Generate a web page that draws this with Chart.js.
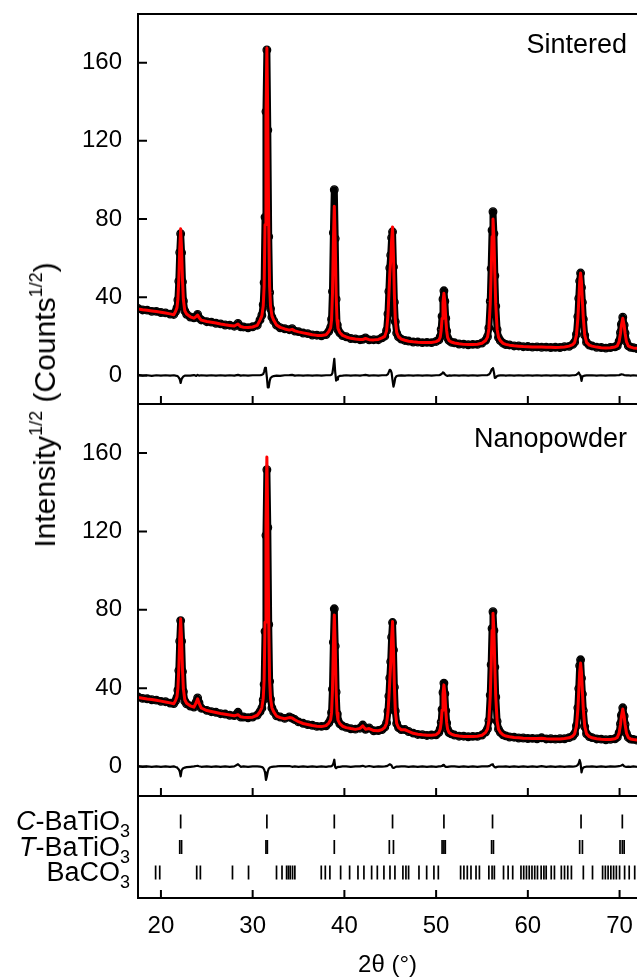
<!DOCTYPE html>
<html>
<head>
<meta charset="utf-8">
<script src="https://cdn.jsdelivr.net/npm/chart.js@4.4.1/dist/chart.umd.min.js"></script>
<style>
  html, body { margin: 0; padding: 0; background: #fff; }
  #wrap { position: relative; width: 637px; height: 980px; overflow: hidden; background: #fff; }
  canvas { position: absolute; left: 0; }
  #ytitle { position: absolute; left: 45px; top: 405px; transform: translate(-50%, -50%) rotate(-90deg);
            font-family: "Liberation Sans", Arial, sans-serif; font-size: 30px; color: #000; white-space: nowrap; line-height: 1; }
  #ytitle sup { font-size: 60%; vertical-align: 0.75em; line-height: 0; }
</style>
</head>
<body>
<div id="wrap">
  <canvas id="c1" width="637" height="405" style="top:0px"></canvas>
  <canvas id="c2" width="637" height="394" style="top:403px"></canvas>
  <canvas id="c3" width="637" height="185" style="top:795px"></canvas>
  <div id="ytitle">Intensity<sup>1/2</sup> (Counts<sup>1/2</sup>)</div>
</div>
<script>
// ---------------- DATA ----------------
const xTickValues = [20, 30, 40, 50, 60, 70];
const yTickValues = [0, 40, 80, 120, 160];
const panelNames = ['Sintered', 'Nanopowder'];
const phaseNames = ['C-BaTiO3', 'T-BaTiO3', 'BaCO3'];
const phaseRows = [3, 2, 1];

const twoTheta = [
  17.5, 18.0, 18.5, 19.0, 19.5, 20.0, 20.5, 21.0, 21.4,
  21.6, 21.75, 21.85, 21.95, 22.05, 22.15, 22.25, 22.35, 22.45, 22.6, 22.8,
  23.2, 23.6, 23.85, 24.0, 24.15, 24.4, 25.0, 25.5, 26.0, 26.5, 27.0, 27.5, 28.0, 28.4, 28.7, 29.0, 29.5, 30.0, 30.5,
  30.8, 31.0, 31.15, 31.25, 31.35, 31.45, 31.55, 31.65, 31.75, 31.85, 31.95, 32.1, 32.3, 32.6,
  33.0, 33.5, 34.0, 34.3, 34.6, 35.0, 35.5, 36.0, 36.5, 37.0, 37.5, 38.0,
  38.3, 38.5, 38.6, 38.7, 38.8, 38.9, 39.0, 39.1, 39.2, 39.3, 39.5, 39.8,
  40.2, 40.7, 41.2, 41.7, 42.0, 42.3, 42.7, 43.2, 43.7, 44.1,
  44.4, 44.6, 44.75, 44.85, 44.95, 45.05, 45.15, 45.25, 45.35, 45.45, 45.55, 45.7, 45.9, 46.2,
  46.6, 47.0, 47.5, 48.0, 48.5, 49.0, 49.5, 50.0, 50.3,
  50.45, 50.55, 50.65, 50.75, 50.85, 50.95, 51.05, 51.15, 51.25, 51.4, 51.65,
  52.0, 52.5, 53.0, 53.5, 54.0, 54.5, 55.0, 55.4,
  55.6, 55.75, 55.9, 56.0, 56.1, 56.2, 56.3, 56.4, 56.5, 56.65, 56.8, 57.0, 57.3,
  57.6, 58.0, 58.5, 59.0, 59.5, 60.0, 60.5, 61.0, 61.5, 62.0, 62.5, 63.0, 63.5, 64.0, 64.5, 64.9,
  65.1, 65.3, 65.45, 65.55, 65.65, 65.75, 65.85, 65.95, 66.05, 66.2, 66.4, 66.7,
  67.0, 67.5, 68.0, 68.5, 69.0, 69.5,
  69.75, 69.95, 70.1, 70.2, 70.35, 70.5, 70.6, 70.75, 70.95,
  71.2, 71.5, 71.9
];

const sinteredObs = [
  34.3, 33.5, 33.4, 32.8, 32.8, 32.2, 32.0, 31.4, 31.2,
  32.7, 34.5, 38.6, 48.2, 62.9, 72.5, 62.8, 47.9, 38.1, 33.0, 31.3,
  29.9, 29.5, 30.0, 31.2, 29.5, 28.4, 27.5, 27.3, 26.7, 26.4, 25.8, 25.7, 25.2, 26.6, 24.9, 24.8, 24.4, 24.9, 25.7,
  28.4, 30.8, 36.2, 47.5, 81.0, 135.0, 166.5, 125.5, 71.0, 42.5, 34.2, 29.8, 27.9, 25.7,
  24.4, 23.9, 23.4, 23.9, 22.7, 22.4, 21.7, 21.4, 20.7, 20.6, 20.3, 20.9,
  22.6, 24.6, 28.8, 43.0, 73.0, 95.0, 70.0, 39.0, 26.0, 23.3, 21.8, 20.4,
  19.8, 18.9, 18.7, 18.3, 18.5, 19.2, 18.2, 18.3, 18.3, 19.3,
  20.1, 23.0, 31.5, 43.0, 55.0, 61.5, 70.5, 73.5, 55.5, 37.5, 27.5, 21.7, 19.7, 18.6,
  17.9, 17.6, 17.1, 17.1, 16.8, 16.9, 16.8, 17.4, 18.2,
  19.9, 23.6, 30.3, 39.0, 43.3, 38.0, 29.3, 22.8, 19.3, 17.9, 17.0,
  16.7, 16.1, 16.0, 15.7, 15.9, 15.9, 16.6, 18.0,
  19.8, 24.3, 38.0, 54.7, 74.3, 83.8, 72.6, 51.0, 35.5, 23.4, 19.4, 17.8, 16.5,
  15.8, 15.6, 15.1, 15.1, 14.7, 14.8, 14.5, 14.6, 14.4, 14.5, 14.3, 14.4, 14.3, 14.7, 14.9, 15.9,
  17.0, 21.1, 30.1, 39.4, 48.3, 52.4, 45.0, 37.4, 28.8, 20.6, 16.9, 15.5,
  15.1, 14.4, 14.3, 14.0, 14.3, 14.6,
  15.2, 17.5, 22.0, 26.2, 29.8, 25.8, 21.7, 17.3, 15.2,
  14.4, 14.2, 13.8
];

const sinteredCalc = [
  34.0, 33.6, 33.3, 33.0, 32.7, 32.3, 31.9, 31.5, 31.1,
  32.8, 34.7, 39.1, 49.3, 64.8, 75.0, 64.7, 49.0, 38.6, 33.1, 31.4,
  30.0, 29.3, 30.2, 30.9, 29.6, 28.3, 27.6, 27.2, 26.8, 26.3, 25.9, 25.6, 25.3, 26.3, 25.0, 24.7, 24.5, 24.8, 25.6,
  28.3, 30.5, 35.5, 45.5, 77.1, 131.6, 167.5, 131.6, 77.1, 45.5, 35.5, 30.5, 28.2, 25.8,
  24.6, 23.8, 23.2, 23.6, 22.8, 22.3, 21.8, 21.3, 20.8, 20.5, 20.4, 20.8,
  22.5, 24.4, 28.4, 41.7, 68.4, 86.5, 68.3, 41.6, 28.1, 24.1, 22.0, 20.5,
  19.7, 19.0, 18.6, 18.4, 18.4, 18.9, 18.3, 18.2, 18.4, 19.2,
  20.0, 22.8, 30.8, 41.2, 52.1, 58.9, 69.2, 76.0, 61.2, 41.4, 28.7, 22.0, 19.8, 18.6,
  18.0, 17.5, 17.2, 17.0, 16.9, 16.8, 16.9, 17.3, 18.1,
  19.6, 23.0, 29.2, 37.4, 42.0, 37.4, 29.1, 22.9, 19.5, 17.9, 17.1,
  16.6, 16.2, 15.9, 15.8, 15.8, 16.0, 16.5, 17.9,
  19.6, 23.8, 36.7, 52.2, 70.9, 80.0, 70.9, 52.2, 36.6, 23.7, 19.5, 17.8, 16.4,
  15.9, 15.5, 15.2, 15.0, 14.8, 14.7, 14.6, 14.5, 14.5, 14.4, 14.4, 14.3, 14.4, 14.6, 15.0, 15.8,
  16.9, 20.7, 29.1, 37.9, 47.8, 52.4, 47.8, 37.9, 29.1, 20.7, 16.9, 15.5,
  15.0, 14.5, 14.2, 14.1, 14.2, 14.6,
  15.1, 17.3, 21.6, 25.6, 29.3, 25.6, 21.6, 17.3, 15.1,
  14.5, 14.1, 13.9
];

const sinteredDiff = [
  0.3, -0.1, 0.1, -0.2, 0.1, -0.1, 0.1, -0.1, 0.1,
  -0.1, -0.2, -0.5, -1.1, -1.9, -3.8, -1.9, -1.1, -0.5, -0.1, -0.1,
  -0.1, 0.2, -0.2, 0.3, -0.1, 0.1, -0.1, 0.1, -0.1, 0.1, -0.1, 0.1, -0.1, 0.3, -0.1, 0.1, -0.1, 0.1, 0.1,
  0.1, 0.3, 0.7, 2.0, 3.9, 3.4, -1.0, -6.1, -6.1, -3.0, -1.3, -0.7, -0.3, -0.1,
  -0.2, 0.1, 0.2, 0.3, -0.1, 0.1, -0.1, 0.1, -0.1, 0.1, -0.1, 0.1,
  0.1, 0.2, 0.4, 1.3, 4.6, 8.5, 1.7, -2.6, -2.1, -0.8, -0.2, -0.1,
  0.1, -0.1, 0.1, -0.1, 0.1, 0.3, -0.1, 0.1, -0.1, 0.1,
  0.1, 0.2, 0.7, 1.8, 2.9, 2.6, 1.3, -2.5, -5.7, -3.9, -1.2, -0.3, -0.1, 0.0,
  -0.1, 0.1, -0.1, 0.1, -0.1, 0.1, -0.1, 0.1, 0.1,
  0.3, 0.6, 1.1, 1.6, 1.3, 0.6, 0.2, -0.1, -0.2, 0.0, -0.1,
  0.1, -0.1, 0.1, -0.1, 0.1, -0.1, 0.1, 0.1,
  0.2, 0.5, 1.3, 2.5, 3.4, 3.8, 1.7, -1.2, -1.1, -0.3, -0.1, 0.0, 0.1,
  -0.1, 0.1, -0.1, 0.1, -0.1, 0.1, -0.1, 0.1, -0.1, 0.1, -0.1, 0.1, -0.1, 0.1, -0.1, 0.1,
  0.1, 0.4, 1.0, 1.5, 0.5, 0.0, -2.8, -0.5, -0.3, -0.1, 0.0, 0.0,
  0.1, -0.1, 0.1, -0.1, 0.1, 0.0,
  0.1, 0.2, 0.4, 0.6, 0.5, 0.2, 0.1, 0.0, 0.1,
  -0.1, 0.1, -0.1
];

const nanoObs = [
  35.5, 34.8, 34.6, 34.1, 33.9, 33.3, 33.1, 32.4, 32.2,
  33.6, 35.3, 39.0, 49.0, 64.0, 74.5, 64.0, 48.5, 38.3, 33.4, 32.0,
  30.9, 30.4, 33.0, 35.0, 32.6, 29.8, 28.7, 28.0, 27.7, 27.0, 26.8, 26.2, 26.0, 27.7, 25.3, 25.3, 24.9, 25.3, 26.3,
  28.0, 29.8, 34.0, 42.0, 69.0, 118.0, 151.5, 122.0, 72.5, 43.5, 34.4, 29.9, 27.9, 25.9,
  25.3, 24.6, 25.3, 24.7, 24.0, 22.8, 22.1, 21.4, 21.1, 20.5, 20.5, 20.8,
  22.3, 24.0, 27.6, 39.5, 63.5, 80.5, 61.5, 38.0, 27.0, 23.6, 21.8, 20.7,
  20.0, 19.3, 19.1, 19.6, 21.2, 19.0, 19.7, 18.3, 18.4, 18.9,
  20.1, 22.3, 28.3, 36.0, 45.2, 53.5, 66.0, 73.5, 59.5, 40.5, 28.4, 22.0, 19.9, 18.9,
  18.9, 17.9, 17.1, 16.4, 16.3, 15.9, 16.1, 16.2, 17.5,
  19.3, 22.7, 29.2, 37.8, 42.6, 37.2, 28.6, 22.3, 19.0, 17.4, 16.7,
  16.1, 15.5, 15.5, 15.2, 15.4, 15.4, 16.1, 17.6,
  19.3, 23.5, 36.5, 52.0, 70.5, 79.0, 69.5, 50.8, 35.5, 23.1, 19.1, 17.5, 16.2,
  15.7, 15.1, 15.0, 14.6, 14.6, 14.3, 14.4, 14.2, 14.7, 14.1, 14.2, 14.0, 14.2, 14.2, 14.8, 15.6,
  16.8, 20.9, 30.0, 39.8, 51.5, 54.5, 45.1, 37.0, 28.6, 20.4, 16.7, 15.3,
  14.8, 14.1, 14.0, 13.7, 13.9, 14.2,
  15.0, 17.3, 21.9, 26.2, 30.0, 25.8, 21.5, 17.0, 14.9,
  14.0, 13.9, 13.5
];

const nanoCalc = [
  35.3, 34.9, 34.5, 34.2, 33.8, 33.4, 33.0, 32.5, 32.1,
  33.8, 35.7, 40.0, 50.0, 65.3, 75.4, 65.2, 49.7, 39.5, 34.1, 32.3,
  31.0, 30.3, 32.7, 34.6, 32.4, 29.9, 28.6, 28.1, 27.6, 27.1, 26.7, 26.3, 25.9, 26.5, 25.4, 25.2, 25.0, 25.2, 26.2,
  28.0, 30.0, 34.7, 44.1, 73.6, 124.5, 158.0, 124.5, 73.6, 44.1, 34.7, 30.0, 27.9, 25.8,
  25.0, 24.4, 25.0, 24.8, 23.9, 22.9, 22.0, 21.5, 21.0, 20.6, 20.4, 20.9,
  22.2, 23.9, 27.4, 38.9, 61.9, 77.4, 61.8, 38.8, 27.3, 23.7, 21.9, 20.6,
  19.9, 19.4, 19.0, 19.5, 20.8, 19.1, 19.4, 18.4, 18.3, 18.9,
  20.0, 22.1, 27.7, 35.1, 44.0, 52.5, 65.5, 74.0, 60.2, 41.1, 28.6, 22.0, 19.9, 18.8,
  18.8, 18.0, 17.0, 16.5, 16.2, 16.0, 16.0, 16.3, 17.4,
  19.2, 22.5, 28.8, 37.0, 41.7, 37.0, 28.7, 22.4, 19.1, 17.4, 16.6,
  16.0, 15.6, 15.4, 15.3, 15.3, 15.5, 16.0, 17.5,
  19.2, 23.3, 35.9, 51.1, 69.4, 78.3, 69.4, 51.1, 35.9, 23.2, 19.1, 17.5, 16.2,
  15.6, 15.2, 14.9, 14.7, 14.5, 14.4, 14.3, 14.3, 14.5, 14.2, 14.1, 14.1, 14.1, 14.3, 14.7, 15.6,
  16.7, 20.6, 29.1, 38.1, 48.1, 52.8, 48.1, 38.1, 29.1, 20.6, 16.7, 15.3,
  14.7, 14.2, 13.9, 13.8, 13.8, 14.2,
  14.9, 17.1, 21.5, 25.6, 29.4, 25.6, 21.5, 17.1, 14.9,
  14.1, 13.8, 13.6
];

const nanoDiff = [
  0.2, -0.1, 0.1, -0.1, 0.1, -0.1, 0.1, -0.1, 0.1,
  -0.2, -0.4, -1.0, -1.5, -2.5, -5.0, -2.0, -1.2, -0.8, -0.5, -0.3,
  -0.1, 0.1, 0.3, 0.4, 0.2, -0.1, 0.1, -0.1, 0.1, -0.1, 0.1, -0.1, 0.1, 1.2, -0.1, 0.1, -0.1, 0.1, 0.1,
  0.0, -0.2, -0.7, -1.5, -3.0, -6.8, -5.0, -2.5, -1.1, -0.6, -0.3, -0.1, 0.0, 0.1,
  0.3, 0.2, 0.3, -0.1, 0.1, -0.1, 0.1, -0.1, 0.1, -0.1, 0.1, -0.1,
  0.1, 0.1, 0.2, 0.6, 1.6, 3.5, -0.3, -0.8, -0.3, -0.1, -0.1, 0.1,
  0.1, -0.1, 0.1, 0.1, 0.4, -0.1, 0.3, -0.1, 0.1, 0.0,
  0.1, 0.2, 0.6, 0.9, 1.2, 1.0, 0.5, -0.5, -0.7, -0.6, -0.2, 0.0, 0.0, 0.1,
  0.1, -0.1, 0.1, -0.1, 0.1, -0.1, 0.1, -0.1, 0.1,
  0.1, 0.2, 0.4, 0.8, 0.9, 0.2, -0.1, -0.1, -0.1, 0.0, 0.1,
  0.1, -0.1, 0.1, -0.1, 0.1, -0.1, 0.1, 0.1,
  0.1, 0.2, 0.6, 0.9, 1.1, 0.7, 0.1, -0.3, -0.4, -0.1, 0.0, 0.0, 0.0,
  0.1, -0.1, 0.1, -0.1, 0.1, -0.1, 0.1, -0.1, 0.2, -0.1, 0.1, -0.1, 0.1, -0.1, 0.1, 0.0,
  0.1, 0.3, 0.9, 1.7, 3.4, 1.7, -3.0, -1.1, -0.5, -0.2, 0.0, 0.0,
  0.1, -0.1, 0.1, -0.1, 0.1, 0.0,
  0.1, 0.2, 0.4, 0.6, 1.0, 0.2, 0.0, -0.1, 0.0,
  -0.1, 0.1, -0.1
];

// reflection markers (2θ)
const cubicRefl = [22.15, 31.55, 38.9, 45.25, 50.85, 56.15, 65.8, 70.3];
const tetraRefl = [22.05, 22.25, 31.45, 31.6, 38.9, 44.9, 45.35, 50.65, 50.85, 51.0, 56.05, 56.25,
                   65.65, 65.95, 70.05, 70.3, 70.5];
const bacoRefl = [19.42, 19.87, 23.9, 24.3, 27.8, 29.55, 32.6, 33.2, 33.7, 33.9, 34.1, 34.35, 34.6,
  37.48, 37.92, 38.42, 39.59, 40.57, 41.48, 42.13, 42.97, 43.59, 44.31, 44.97, 45.51, 46.38, 46.71, 47.0,
  48.13, 48.97, 49.76, 50.24, 52.67, 53.03, 53.4, 53.8, 54.35, 54.72, 55.75, 56.1, 56.35,
  57.35, 57.85, 58.35, 59.25, 59.55, 59.85, 60.15, 60.45, 60.75, 61.05, 61.45, 61.75, 62.0,
  62.55, 62.9, 63.65, 64.0, 64.35, 64.75, 66.05, 67.05, 68.15, 68.45, 68.75, 69.05, 69.35, 69.65, 70.0,
  70.55, 71.05, 71.65];

// ---------------- RENDERING ----------------
const FONT = '"Liberation Sans", Arial, Helvetica, sans-serif';
Chart.defaults.font.family = FONT;
Chart.defaults.color = '#000';

const X_MIN = 17.5, X_MAX = 71.9;
const pts = (ys) => twoTheta.map((x, i) => ({ x: x, y: ys[i] }));

const framePlugin = {
  id: 'frame',
  afterDatasetsDraw(chart, args, opts) {
    const { ctx, chartArea: a, scales } = chart;
    ctx.save();
    ctx.strokeStyle = '#000';
    ctx.lineWidth = 2;
    ctx.beginPath();
    ctx.moveTo(a.right + 5, a.top);
    ctx.lineTo(a.left, a.top);
    ctx.lineTo(a.left, a.bottom);
    ctx.lineTo(a.right + 5, a.bottom);
    ctx.stroke();
    ctx.beginPath();
    for (const v of xTickValues) {
      const px = scales.x.getPixelForValue(v);
      ctx.moveTo(px, a.bottom);
      ctx.lineTo(px, a.bottom - 8);
    }
    if (opts.yTicks) {
      for (const v of yTickValues) {
        const py = scales.y.getPixelForValue(v);
        ctx.moveTo(a.left, py);
        ctx.lineTo(a.left + 9, py);
      }
    }
    ctx.stroke();
    if (opts.label) {
      ctx.fillStyle = '#000';
      ctx.font = '27px ' + FONT;
      ctx.textAlign = 'right';
      ctx.textBaseline = 'alphabetic';
      ctx.fillText(opts.label, a.right - 10, a.top + opts.labelDy);
    }
    if (opts.phaseLabels) {
      const yS = scales.y;
      phaseNames.forEach((name, i) => {
        const py = yS.getPixelForValue(phaseRows[i]);
        const m = name.match(/^([A-Z])-(.*?)(\d*)$/);
        let parts;
        if (m) parts = [{ t: m[1], f: 'italic 27px ' + FONT, dy: 0 }, { t: '-' + m[2], f: '27px ' + FONT, dy: 0 }];
        else { const k = name.match(/^(.*?)(\d*)$/); parts = [{ t: k[1], f: '27px ' + FONT, dy: 0 }]; }
        const sub = name.match(/(\d+)$/);
        if (sub) parts.push({ t: sub[1], f: '18px ' + FONT, dy: 7 });
        let w = 0;
        parts.forEach(p => { ctx.font = p.f; p.w = ctx.measureText(p.t).width; w += p.w; });
        let x = 130 - w;
        ctx.textAlign = 'left';
        ctx.textBaseline = 'alphabetic';
        ctx.fillStyle = '#000';
        parts.forEach(p => { ctx.font = p.f; ctx.fillText(p.t, x, py + 8.5 + p.dy); x += p.w; });
      });
    }
    ctx.restore();
  }
};

function yScale(min, max) {
  return {
    type: 'linear', min: min, max: max,
    afterFit(s) { s.width = 138; s.paddingTop = 0; s.paddingBottom = 0; },
    afterBuildTicks(s) { s.ticks = yTickValues.map(v => ({ value: v })); },
    grid: { display: false, drawTicks: false },
    border: { display: false },
    ticks: { font: { size: 24 }, color: '#000', padding: 16 }
  };
}

function patternChart(canvasId, obs, calc, diff, yMin, yMax, label, labelDy) {
  return new Chart(document.getElementById(canvasId), {
    type: 'line',
    data: {
      datasets: [
        { label: 'calc', data: pts(calc), borderColor: '#ff0000', borderWidth: 3, pointRadius: 0, tension: 0,
          borderJoinStyle: 'round', borderCapStyle: 'round', order: 0 },
        { label: 'obs', data: pts(obs), borderColor: '#000', borderWidth: 7, pointRadius: 3.8,
          borderJoinStyle: 'round', borderCapStyle: 'round',
          pointBorderWidth: 1.3, pointBorderColor: '#000', pointBackgroundColor: 'rgba(0,0,0,0)', tension: 0, order: 1 },
        { label: 'diff', data: pts(diff), borderColor: '#000', borderWidth: 2.2, pointRadius: 0, tension: 0,
          borderJoinStyle: 'round', order: 2 }
      ]
    },
    options: {
      responsive: false, animation: false, devicePixelRatio: 1, events: [],
      layout: { autoPadding: false, padding: { top: canvasId === 'c1' ? 14 : 1, bottom: 1, left: 0, right: 0 } },
      plugins: { legend: { display: false }, tooltip: { enabled: false },
                 frame: { yTicks: true, label: label, labelDy: labelDy } },
      scales: {
        x: { type: 'linear', min: X_MIN, max: X_MAX, display: false },
        y: yScale(yMin, yMax)
      }
    },
    plugins: [framePlugin]
  });
}

patternChart('c1', sinteredObs, sinteredCalc, sinteredDiff, -14.6, 184.9, panelNames[0], 38.5);
patternChart('c2', nanoObs, nanoCalc, nanoDiff, -15, 185, panelNames[1], 42.5);

const markerStyle = { showLine: false, pointStyle: 'line', pointRadius: 7, pointRotation: 90,
                      pointBorderWidth: 1.7, pointBorderColor: '#000', borderColor: '#000' };
new Chart(document.getElementById('c3'), {
  type: 'scatter',
  data: {
    datasets: [
      Object.assign({ label: phaseNames[0], data: cubicRefl.map(x => ({ x: x, y: phaseRows[0] })) }, markerStyle),
      Object.assign({ label: phaseNames[1], data: tetraRefl.map(x => ({ x: x, y: phaseRows[1] })) }, markerStyle),
      Object.assign({ label: phaseNames[2], data: bacoRefl.map(x => ({ x: x, y: phaseRows[2] })) }, markerStyle)
    ]
  },
  options: {
    responsive: false, animation: false, devicePixelRatio: 1, events: [],
    layout: { autoPadding: false, padding: { top: 1, bottom: 0, left: 0, right: 0 } },
    plugins: { legend: { display: false }, tooltip: { enabled: false },
               frame: { yTicks: false, phaseLabels: true } },
    scales: {
      x: {
        type: 'linear', min: X_MIN, max: X_MAX, position: 'bottom',
        afterFit(s) { s.height = 82; s.paddingLeft = 0; s.paddingRight = 0; },
        afterBuildTicks(s) { s.ticks = xTickValues.map(v => ({ value: v })); },
        grid: { display: false, drawTicks: false },
        border: { display: false },
        ticks: { font: { size: 24 }, color: '#000', padding: 14, maxRotation: 0 },
        title: { display: true, text: '2θ (°)', font: { size: 24 }, color: '#000', padding: { top: 0, bottom: 0 } }
      },
      y: {
        type: 'linear', min: 0, max: 4,
        afterFit(s) { s.width = 138; s.paddingTop = 0; s.paddingBottom = 0; },
        grid: { display: false, drawTicks: false },
        border: { display: false },
        ticks: { display: false }
      }
    }
  },
  plugins: [framePlugin]
});
</script>
</body>
</html>
